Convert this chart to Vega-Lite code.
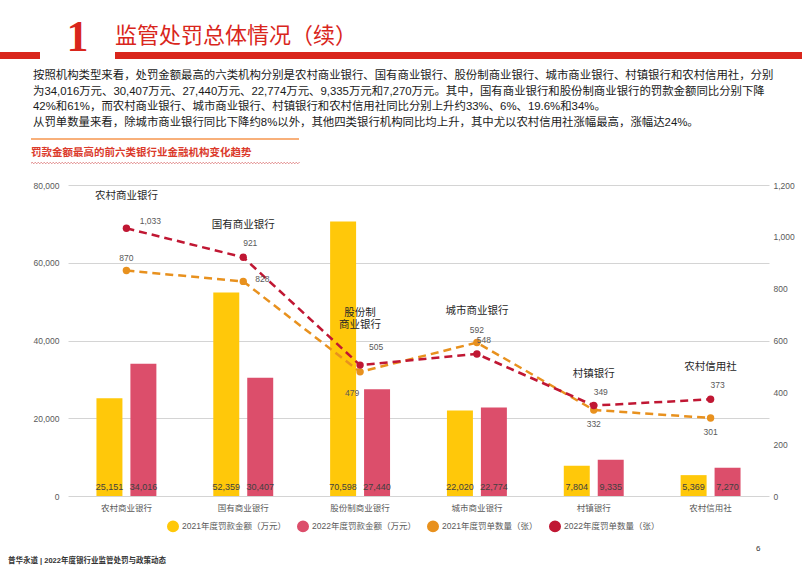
{
  "$schema": "https://vega.github.io/schema/vega-lite/v6.json",
  "background": "white",
  "padding": {"left": 0, "top": 16, "right": 0, "bottom": 0},
  "config": {
    "font": "Liberation Sans, Noto Sans CJK SC",
    "view": {"stroke": null},
    "title": {"font": "Liberation Sans, Noto Sans CJK SC"}
  },
  "datasets": {
    "amounts": [
      {"cat": "农村商业银行", "series": "2021年度罚款金额（万元）", "value": 25151},
      {"cat": "农村商业银行", "series": "2022年度罚款金额（万元）", "value": 34016},
      {"cat": "国有商业银行", "series": "2021年度罚款金额（万元）", "value": 52359},
      {"cat": "国有商业银行", "series": "2022年度罚款金额（万元）", "value": 30407},
      {"cat": "股份制商业银行", "series": "2021年度罚款金额（万元）", "value": 70598},
      {"cat": "股份制商业银行", "series": "2022年度罚款金额（万元）", "value": 27440},
      {"cat": "城市商业银行", "series": "2021年度罚款金额（万元）", "value": 22020},
      {"cat": "城市商业银行", "series": "2022年度罚款金额（万元）", "value": 22774},
      {"cat": "村镇银行", "series": "2021年度罚款金额（万元）", "value": 7804},
      {"cat": "村镇银行", "series": "2022年度罚款金额（万元）", "value": 9335},
      {"cat": "农村信用社", "series": "2021年度罚款金额（万元）", "value": 5369},
      {"cat": "农村信用社", "series": "2022年度罚款金额（万元）", "value": 7270}
    ],
    "counts": [
      {"cat": "农村商业银行", "series": "2021年度罚单数量（张）", "value": 870},
      {"cat": "农村商业银行", "series": "2022年度罚单数量（张）", "value": 1033},
      {"cat": "国有商业银行", "series": "2021年度罚单数量（张）", "value": 828},
      {"cat": "国有商业银行", "series": "2022年度罚单数量（张）", "value": 921},
      {"cat": "股份制商业银行", "series": "2021年度罚单数量（张）", "value": 479},
      {"cat": "股份制商业银行", "series": "2022年度罚单数量（张）", "value": 505},
      {"cat": "城市商业银行", "series": "2021年度罚单数量（张）", "value": 592},
      {"cat": "城市商业银行", "series": "2022年度罚单数量（张）", "value": 548},
      {"cat": "村镇银行", "series": "2021年度罚单数量（张）", "value": 332},
      {"cat": "村镇银行", "series": "2022年度罚单数量（张）", "value": 349},
      {"cat": "农村信用社", "series": "2021年度罚单数量（张）", "value": 301},
      {"cat": "农村信用社", "series": "2022年度罚单数量（张）", "value": 373}
    ],
    "notes": [
      {"cat": "农村商业银行", "note": "农村商业银行"},
      {"cat": "国有商业银行", "note": "国有商业银行"},
      {"cat": "股份制商业银行", "note": "股份制\n商业银行"},
      {"cat": "城市商业银行", "note": "城市商业银行"},
      {"cat": "村镇银行", "note": "村镇银行"},
      {"cat": "农村信用社", "note": "农村信用社"}
    ]
  },
  "spacing": 10,
  "resolve": {"scale": {"color": "independent"}, "legend": {"color": "independent"}},
  "vconcat": [
    {
      "spacing": 0,
      "bounds": "flush",
      "hconcat": [
        {"width": 40, "height": 7, "data": {"values": [{"k": 1}]}, "mark": {"type": "rect", "opacity": 0}, "view": {"fill": "#D9261C", "stroke": null}},
        {"width": 75, "height": 7, "data": {"values": [{"k": 1}]}, "mark": {"type": "rect", "opacity": 0}, "view": {"stroke": null},
         "title": {"text": "1", "font": "Liberation Serif", "fontSize": 44, "fontWeight": "bold", "color": "#D9261C", "anchor": "middle", "offset": 0, "dy": 8}},
        {"width": 687, "height": 7, "data": {"values": [{"k": 1}]}, "mark": {"type": "rect", "opacity": 0}, "view": {"fill": "#D9261C", "stroke": null},
         "title": {"text": "监管处罚总体情况（续）", "font": "Noto Sans CJK SC", "fontSize": 22, "fontWeight": "normal", "color": "#D9261C", "anchor": "start", "offset": 4}}
      ]
    },
    {
      "spacing": 17,
      "resolve": {"scale": {"color": "independent"}, "legend": {"color": "independent"}},
      "vconcat": [
        {
          "spacing": 0,
          "hconcat": [
            {"width": 30, "height": 1, "data": {"values": [{"k": 1}]}, "mark": {"type": "rect", "opacity": 0}, "view": {"stroke": null}},
            {
              "spacing": 7,
              "vconcat": [
                {"width": 268, "height": 2, "data": {"values": [{"k": 1}]}, "mark": {"type": "rect", "opacity": 0}, "view": {"fill": "#F8B07A", "stroke": null},
                 "title": {"text": [
                   "按照机构类型来看，处罚金额最高的六类机构分别是农村商业银行、国有商业银行、股份制商业银行、城市商业银行、村镇银行和农村信用社，分别",
                   "为34,016万元、30,407万元、27,440万元、22,774万元、9,335万元和7,270万元。其中，国有商业银行和股份制商业银行的罚款金额同比分别下降",
                   "42%和61%，而农村商业银行、城市商业银行、村镇银行和农村信用社同比分别上升约33%、6%、19.6%和34%。",
                   "从罚单数量来看，除城市商业银行同比下降约8%以外，其他四类银行机构同比均上升，其中尤以农村信用社涨幅最高，涨幅达24%。"
                 ], "anchor": "start", "fontSize": 11.4, "fontWeight": "normal", "color": "#1A1A1A", "lineHeight": 15.5, "offset": 10, "dx": 2}},
                {"width": 268, "height": 1, "data": {"values": [{"k": 1}]}, "mark": {"type": "rect", "opacity": 0}, "view": {"fill": null, "stroke": "#E59A9A", "strokeDash": [1.5, 1.5], "strokeWidth": 1},
                 "title": {"text": "罚款金额最高的前六类银行业金融机构变化趋势", "anchor": "start", "fontSize": 10.5, "fontWeight": "bold", "color": "#DB3A2B", "offset": 4}}
              ]
            }
          ]
        },
        {
          "spacing": 0,
          "resolve": {"scale": {"color": "independent"}, "legend": {"color": "independent"}},
          "hconcat": [
            {"width": 33, "height": 1, "data": {"values": [{"k": 1}]}, "mark": {"type": "rect", "opacity": 0}, "view": {"stroke": null}},
            {
              "width": 701,
              "height": 311,
              "resolve": {"scale": {"y": "independent"}, "axis": {"y": "independent"}},
              "layer": [
                {
                  "data": {"name": "amounts"},
                  "layer": [
                    {
                      "mark": {"type": "bar"},
                      "encoding": {
                        "x": {"field": "cat", "type": "nominal",
                              "scale": {"domain": ["农村商业银行", "国有商业银行", "股份制商业银行", "城市商业银行", "村镇银行", "农村信用社"], "paddingInner": 0, "paddingOuter": 0},
                              "axis": {"title": null, "domain": false, "ticks": false, "labelAngle": 0, "labelFontSize": 8.5, "labelColor": "#595959", "labelPadding": 7}},
                        "xOffset": {"field": "series", "type": "nominal", "scale": {"paddingInner": 0.235, "paddingOuter": 0.838}},
                        "y": {"field": "value", "type": "quantitative", "scale": {"domain": [0, 80000]},
                              "axis": {"orient": "left", "title": null, "values": [0, 10000, 20000, 30000, 40000, 50000, 60000, 70000, 80000], "format": ",.0f", "labelOverlap": false, "grid": true, "gridColor": "#D4D4D4", "gridWidth": 1, "domain": false, "ticks": false, "labelPadding": 9, "labelFontSize": 8.5, "labelColor": "#595959"}},
                        "color": {"field": "series", "type": "nominal",
                                  "scale": {"domain": ["2021年度罚款金额（万元）", "2022年度罚款金额（万元）", "2021年度罚单数量（张）", "2022年度罚单数量（张）"], "range": ["#FFC80A", "#DC4E6B", "#E8911E", "#C01733"]},
                                  "legend": {"orient": "none", "legendX": 99, "legendY": 335, "direction": "horizontal", "columns": 4, "title": null, "labelFontSize": 8.5, "labelColor": "#595959", "labelOffset": 3, "columnPadding": 8, "symbolSize": 110, "symbolType": "circle"}}
                      }
                    },
                    {
                      "mark": {"type": "text", "fontSize": 9, "color": "#404040", "dy": -9, "baseline": "middle"},
                      "encoding": {
                        "x": {"field": "cat", "type": "nominal"},
                        "xOffset": {"field": "series", "type": "nominal"},
                        "y": {"datum": 0, "type": "quantitative"},
                        "text": {"field": "value", "type": "quantitative", "format": ","}
                      }
                    }
                  ]
                },
                {
                  "data": {"name": "counts"},
                  "layer": [
                    {
                      "mark": {"type": "line", "strokeDash": [8, 5], "strokeWidth": 2.5},
                      "encoding": {
                        "x": {"field": "cat", "type": "nominal"},
                        "y": {"field": "value", "type": "quantitative", "scale": {"domain": [0, 1200]},
                              "axis": {"orient": "right", "title": null, "values": [0, 200, 400, 600, 800, 1000, 1200], "format": ",.0f", "labelOverlap": false, "grid": false, "domain": false, "ticks": false, "labelPadding": 4, "labelFontSize": 8.5, "labelColor": "#595959"}},
                        "color": {"field": "series", "type": "nominal"}
                      }
                    },
                    {
                      "mark": {"type": "circle", "size": 55, "opacity": 1},
                      "encoding": {
                        "x": {"field": "cat", "type": "nominal"},
                        "y": {"field": "value", "type": "quantitative"},
                        "color": {"field": "series", "type": "nominal"}
                      }
                    },
                    {
                      "transform": [{"filter": "datum.series === '2021年度罚单数量（张）' && (datum.cat === '农村商业银行' || datum.cat === '城市商业银行')"}],
                      "mark": {"type": "text", "fontSize": 8.5, "color": "#595959", "dy": -13},
                      "encoding": {"x": {"field": "cat", "type": "nominal"}, "y": {"field": "value", "type": "quantitative"}, "text": {"field": "value", "type": "quantitative", "format": ","}}
                    },
                    {
                      "transform": [{"filter": "datum.series === '2021年度罚单数量（张）' && datum.cat === '国有商业银行'"}],
                      "mark": {"type": "text", "fontSize": 8.5, "color": "#595959", "align": "left", "dx": 12, "dy": -2},
                      "encoding": {"x": {"field": "cat", "type": "nominal"}, "y": {"field": "value", "type": "quantitative"}, "text": {"field": "value", "type": "quantitative", "format": ","}}
                    },
                    {
                      "transform": [{"filter": "datum.series === '2021年度罚单数量（张）' && (datum.cat === '村镇银行' || datum.cat === '农村信用社')"}],
                      "mark": {"type": "text", "fontSize": 8.5, "color": "#595959", "dy": 14},
                      "encoding": {"x": {"field": "cat", "type": "nominal"}, "y": {"field": "value", "type": "quantitative"}, "text": {"field": "value", "type": "quantitative", "format": ","}}
                    },
                    {
                      "transform": [{"filter": "datum.series === '2021年度罚单数量（张）' && datum.cat === '股份制商业银行'"}],
                      "mark": {"type": "text", "fontSize": 8.5, "color": "#595959", "dx": -8, "dy": 21},
                      "encoding": {"x": {"field": "cat", "type": "nominal"}, "y": {"field": "value", "type": "quantitative"}, "text": {"field": "value", "type": "quantitative", "format": ","}}
                    },
                    {
                      "transform": [{"filter": "datum.series === '2022年度罚单数量（张）' && (datum.cat === '国有商业银行' || datum.cat === '城市商业银行' || datum.cat === '村镇银行' || datum.cat === '农村信用社')"}],
                      "mark": {"type": "text", "fontSize": 8.5, "color": "#595959", "dx": 7, "dy": -14},
                      "encoding": {"x": {"field": "cat", "type": "nominal"}, "y": {"field": "value", "type": "quantitative"}, "text": {"field": "value", "type": "quantitative", "format": ","}}
                    },
                    {
                      "transform": [{"filter": "datum.series === '2022年度罚单数量（张）' && datum.cat === '农村商业银行'"}],
                      "mark": {"type": "text", "fontSize": 8.5, "color": "#595959", "dx": 24, "dy": -7},
                      "encoding": {"x": {"field": "cat", "type": "nominal"}, "y": {"field": "value", "type": "quantitative"}, "text": {"field": "value", "type": "quantitative", "format": ","}}
                    },
                    {
                      "transform": [{"filter": "datum.series === '2022年度罚单数量（张）' && datum.cat === '股份制商业银行'"}],
                      "mark": {"type": "text", "fontSize": 8.5, "color": "#595959", "dx": 16, "dy": -18},
                      "encoding": {"x": {"field": "cat", "type": "nominal"}, "y": {"field": "value", "type": "quantitative"}, "text": {"field": "value", "type": "quantitative", "format": ","}}
                    },
                    {
                      "transform": [
                        {"joinaggregate": [{"op": "max", "field": "value", "as": "maxv"}], "groupby": ["cat"]},
                        {"filter": "datum.series === '2022年度罚单数量（张）' && datum.cat !== '股份制商业银行'"},
                        {"lookup": "cat", "from": {"data": {"name": "notes"}, "key": "cat", "fields": ["note"]}}
                      ],
                      "mark": {"type": "text", "baseline": "bottom", "dy": -27, "fontSize": 10.5, "color": "#262626"},
                      "encoding": {"x": {"field": "cat", "type": "nominal"}, "y": {"field": "maxv", "type": "quantitative"}, "text": {"field": "note", "type": "nominal"}}
                    },
                    {
                      "transform": [
                        {"filter": "datum.series === '2022年度罚单数量（张）' && datum.cat === '股份制商业银行'"},
                        {"lookup": "cat", "from": {"data": {"name": "notes"}, "key": "cat", "fields": ["note"]}}
                      ],
                      "mark": {"type": "text", "baseline": "bottom", "dy": -47, "fontSize": 10.5, "color": "#262626", "lineBreak": "\n", "lineHeight": 12},
                      "encoding": {"x": {"field": "cat", "type": "nominal"}, "y": {"field": "value", "type": "quantitative"}, "text": {"field": "note", "type": "nominal"}}
                    }
                  ]
                }
              ]
            }
          ]
        }
      ]
    },
    {
      "spacing": 0,
      "bounds": "flush",
      "hconcat": [
        {"width": 740, "height": 1, "data": {"values": [{"k": 1}]}, "mark": {"type": "rect", "opacity": 0}, "view": {"stroke": null},
         "title": {"text": "普华永道 | 2022年度银行业监管处罚与政策动态", "anchor": "start", "fontSize": 7.5, "fontWeight": "bold", "color": "#333333", "dx": 8, "offset": 0}},
        {"width": 30, "height": 1, "data": {"values": [{"k": 1}]}, "mark": {"type": "rect", "opacity": 0}, "view": {"stroke": null},
         "title": {"text": "6", "anchor": "start", "fontSize": 8, "fontWeight": "normal", "color": "#333333", "dx": 16, "dy": -11, "offset": 0}}
      ]
    }
  ]
}
